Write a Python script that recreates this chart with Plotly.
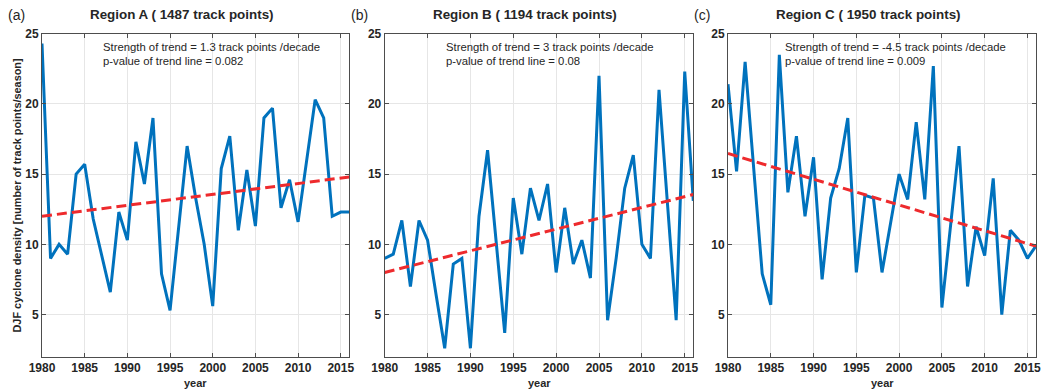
import plotly.graph_objects as go

years = list(range(1980, 2017))

region_a = [24.3, 9.0, 10.0, 9.3, 15.0, 15.7, 11.8, 9.3, 6.6, 12.3,
            10.3, 17.3, 14.3, 19.0, 7.9, 5.3, 11.3, 17.0, 13.3, 10.0,
            5.6, 15.4, 17.7, 11.0, 15.3, 11.3, 19.0, 19.7, 12.6, 14.6,
            11.6, 16.0, 20.3, 19.0, 12.0, 12.3, 12.3]
region_b = [9.0, 9.3, 11.7, 7.0, 11.7, 10.3, 6.4, 2.6, 8.6, 9.0,
            2.6, 12.0, 16.7, 10.2, 3.7, 13.3, 9.3, 14.0, 11.7, 14.3,
            8.0, 12.6, 8.6, 10.3, 7.6, 22.0, 4.6, 9.0, 14.0, 16.35,
            10.0, 9.0, 21.0, 12.8, 4.6, 22.3, 13.1]
region_c = [21.4, 15.2, 23.0, 15.5, 7.9, 5.7, 23.5, 13.7, 17.7, 12.0,
            16.2, 7.5, 13.3, 15.4, 19.0, 8.0, 13.5, 13.3, 8.0, 11.5,
            15.0, 13.2, 18.7, 13.2, 22.7, 5.5, 11.3, 17.0, 7.0, 11.25,
            9.2, 14.7, 5.0, 11.0, 10.3, 9.0, 9.9]

trend_years = [1980, 2016]
trend_a = [12.0, 14.8]
trend_b = [8.0, 13.55]
trend_c = [16.47, 9.87]

titles = ["Region A ( 1487 track points)", "Region B ( 1194 track points)",
          "Region C ( 1950 track points)"]
labels = ["(a)", "(b)", "(c)"]
strengths = ["1.3", "3", "-4.5"]
pvalues = ["0.082", "0.08", "0.009"]

series = [region_a, region_b, region_c]
trends = [trend_a, trend_b, trend_c]

W, H = 1047, 392
px_domains = [(42, 349.3), (384.7, 693.3), (728, 1036)]
y_top, y_bot = 33.7, 356.7
ydom = [1 - y_bot / H, 1 - y_top / H]

FONT = "Liberation Sans, Arial, Helvetica, sans-serif"
TXT = "#262626"

fig = go.Figure()
for i in range(3):
    ax = "" if i == 0 else str(i + 1)
    fig.add_trace(go.Scatter(x=years, y=series[i], mode="lines",
                             line=dict(color="#0072BD", width=3),
                             xaxis="x" + ax, yaxis="y" + ax, showlegend=False,
                             hoverinfo="skip"))
    fig.add_trace(go.Scatter(x=trend_years, y=trends[i], mode="lines",
                             line=dict(color="#EE2A2D", width=3, dash="10px,5px"),
                             xaxis="x" + ax, yaxis="y" + ax, showlegend=False,
                             hoverinfo="skip"))

layout = dict(width=W, height=H, margin=dict(l=0, r=0, t=0, b=0),
              paper_bgcolor="white", plot_bgcolor="white",
              font=dict(family=FONT, color=TXT))
annotations = []
for i in range(3):
    ax = "" if i == 0 else str(i + 1)
    x0, x1 = px_domains[i]
    common = dict(showline=True, linecolor="#4d4d4d", linewidth=1, mirror="ticks",
                  ticks="inside", ticklen=4, tickcolor="#4d4d4d", tickwidth=1,
                  showgrid=True, gridcolor="#e6e6e6", gridwidth=1, zeroline=False,
                  automargin=False,
                  tickfont=dict(family=FONT, size=12, color=TXT, weight="bold"))
    layout["xaxis" + ax] = dict(domain=[x0 / W, x1 / W], range=[1980, 2016],
                                tickvals=[1980, 1985, 1990, 1995, 2000, 2005, 2010, 2015],
                                anchor="y" + ax, **common)
    layout["yaxis" + ax] = dict(domain=ydom, range=[2, 25], tickvals=[5, 10, 15, 20, 25],
                                anchor="x" + ax, **common)
    cx = (x0 + x1) / 2
    annotations.append(dict(text="<b>" + titles[i] + "</b>", xref="paper", yref="paper",
                            x=(cx - 14) / W, y=1 - 15 / H, showarrow=False,
                            font=dict(size=13.4, color=TXT), xanchor="center", yanchor="middle"))
    annotations.append(dict(text=labels[i], xref="paper", yref="paper",
                            x=(x0 - 36) / W, y=1 - 15 / H, showarrow=False,
                            font=dict(size=14, color=TXT), xanchor="left", yanchor="middle"))
    annotations.append(dict(text="<b>year</b>", xref="paper", yref="paper",
                            x=cx / W, y=1 - 383 / H, showarrow=False,
                            font=dict(size=11, color=TXT), xanchor="center", yanchor="middle"))
    annotations.append(dict(text="Strength of trend = " + strengths[i] + " track points /decade",
                            xref="x" + ax, yref="paper", x=1986.9 if i < 2 else 1986.4,
                            y=1 - 47.5 / H, showarrow=False, font=dict(size=11.3, color=TXT),
                            xanchor="left", yanchor="middle"))
    annotations.append(dict(text="p-value of trend line = " + pvalues[i],
                            xref="x" + ax, yref="paper", x=1986.9 if i < 2 else 1986.4,
                            y=1 - 61.5 / H, showarrow=False, font=dict(size=11.3, color=TXT),
                            xanchor="left", yanchor="middle"))
annotations.append(dict(text="<b>DJF cyclone density [number of track points/season]</b>",
                        xref="paper", yref="paper", x=16 / W, y=1 - 195.5 / H,
                        showarrow=False, textangle=-90, font=dict(size=10.9, color=TXT),
                        xanchor="center", yanchor="middle"))
layout["annotations"] = annotations
fig.update_layout(**layout)
fig.write_html("out.html")
